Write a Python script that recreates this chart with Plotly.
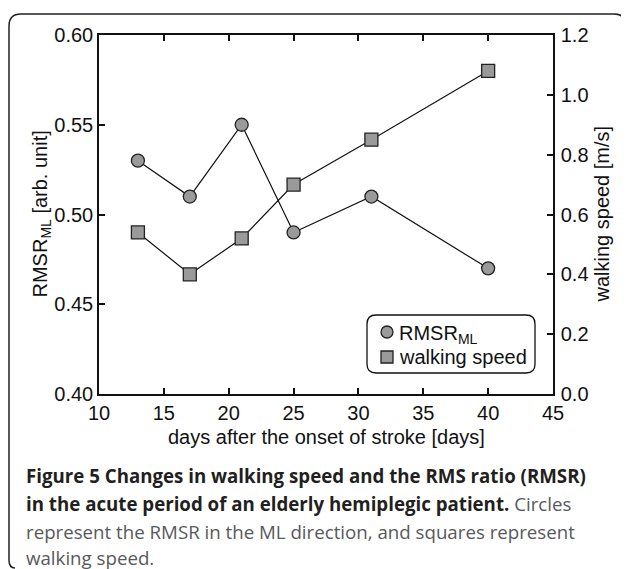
import plotly.graph_objects as go

days = [13, 17, 21, 25, 31, 40]
rmsr_ml = [0.53, 0.51, 0.55, 0.49, 0.51, 0.47]
walk_speed = [0.54, 0.40, 0.52, 0.70, 0.85, 1.08]

x_ticks = [10, 15, 20, 25, 30, 35, 40, 45]
y1_ticks = [0.40, 0.45, 0.50, 0.55, 0.60]
y2_ticks = [0.0, 0.2, 0.4, 0.6, 0.8, 1.0, 1.2]

FONT = "Liberation Sans, Arial, sans-serif"
CAP_FONT = "Open Sans, sans-serif"
FS = 20
# page has an 8px body margin, so the figure is 8px smaller than the window
W, H = 621, 561
L, R, T, B = 91, 545, 27, 386

fig = go.Figure()
fig.add_trace(go.Scatter(x=days, y=rmsr_ml, mode="lines", line=dict(color="#111", width=1.2),
                         showlegend=False, hoverinfo="skip"))
fig.add_trace(go.Scatter(x=days, y=walk_speed, mode="lines", line=dict(color="#111", width=1.2),
                         showlegend=False, hoverinfo="skip", yaxis="y2"))
fig.add_trace(go.Scatter(x=days, y=rmsr_ml, mode="markers", name="RMSR_ML", showlegend=False,
                         marker=dict(symbol="circle", size=13, color="#9a9a9a",
                                     line=dict(color="#222", width=1.3))))
fig.add_trace(go.Scatter(x=days, y=walk_speed, mode="markers", name="walking speed", yaxis="y2",
                         showlegend=False,
                         marker=dict(symbol="square", size=13, color="#9a9a9a",
                                     line=dict(color="#222", width=1.3))))

axis_common = dict(showgrid=False, zeroline=False, showline=True, linecolor="#111", linewidth=1.5,
                   ticks="inside", ticklen=6, tickwidth=1.5, tickcolor="#111",
                   tickfont=dict(family=FONT, size=FS, color="#111"))

fig.update_layout(
    width=W, height=H,
    margin=dict(l=L, r=W - R, t=T, b=H - B),
    paper_bgcolor="white", plot_bgcolor="white",
    font=dict(family=FONT, size=FS, color="#111"),
    xaxis=dict(range=[10, 45], tickvals=x_ticks, ticktext=[str(v) for v in x_ticks],
               mirror="ticks", **axis_common),
    yaxis=dict(range=[0.40, 0.60], tickvals=y1_ticks, ticktext=[f"{v:.2f}" for v in y1_ticks],
               ticklabelstandoff=0, **axis_common),
    yaxis2=dict(range=[0.0, 1.2], tickvals=y2_ticks, ticktext=[f"{v:.1f}" for v in y2_ticks],
                overlaying="y", side="right", ticklabelstandoff=2, **axis_common),
    showlegend=False,
)


def px(x, y):
    return (x - L) / (R - L), (B - y) / (B - T)


def path_from(points_cmds):
    out = []
    for cmd, pts in points_cmds:
        coords = " ".join(f"{a:.5f},{b:.5f}" for a, b in (px(*p) for p in pts))
        out.append(f"{cmd} {coords}")
    return " ".join(out)


# rounded legend box
bx0, by0, bx1, by1, r = 359, 307, 527, 365, 9
legend_path = path_from([
    ("M", [(bx0 + r, by0)]), ("L", [(bx1 - r, by0)]), ("Q", [(bx1, by0), (bx1, by0 + r)]),
    ("L", [(bx1, by1 - r)]), ("Q", [(bx1, by1), (bx1 - r, by1)]), ("L", [(bx0 + r, by1)]),
    ("Q", [(bx0, by1), (bx0, by1 - r)]), ("L", [(bx0, by0 + r)]), ("Q", [(bx0, by0), (bx0 + r, by0)]),
]) + " Z"
fig.add_shape(type="path", path=legend_path, xref="paper", yref="paper",
              line=dict(color="#111", width=1.3), fillcolor="white", layer="below")

# legend symbols
cx0, cy0 = px(373, 318)
cx1, cy1 = px(385, 330)
fig.add_shape(type="circle", x0=cx0, y0=cy0, x1=cx1, y1=cy1, xref="paper", yref="paper",
              line=dict(color="#222", width=1.3), fillcolor="#9a9a9a")
sx0, sy0 = px(373, 343)
sx1, sy1 = px(385, 355)
fig.add_shape(type="rect", x0=sx0, y0=sy0, x1=sx1, y1=sy1, xref="paper", yref="paper",
              line=dict(color="#222", width=1.3), fillcolor="#9a9a9a")

tx, ty1 = px(389, 326)
_, ty2 = px(389, 349)
fig.add_annotation(x=tx, y=ty1, xref="paper", yref="paper", showarrow=False,
                   text="RMSR<sub>ML</sub>",
                   font=dict(family=FONT, size=FS, color="#111"), xanchor="left", yanchor="middle")
fig.add_annotation(x=tx, y=ty2, xref="paper", yref="paper", showarrow=False,
                   text="walking speed",
                   font=dict(family=FONT, size=FS, color="#111"), xanchor="left", yanchor="middle")

# outer frame (open at bottom)
fx0, fy0, fx1, fr = 1, 6, 618, 12
frame = path_from([
    ("M", [(7, 560)]), ("Q", [(fx0, 560), (fx0, 552)]), ("L", [(fx0, fy0 + fr)]),
    ("Q", [(fx0, fy0), (fx0 + fr, fy0)]), ("L", [(fx1 - fr, fy0)]),
    ("Q", [(fx1, fy0), (fx1, fy0 + fr)]), ("L", [(fx1, 561)]),
])
fig.add_shape(type="path", path=frame, xref="paper", yref="paper",
              line=dict(color="#222", width=1.5))

# axis titles
cx, _ = px((L + R) / 2, 0)
_, tyx = px(0, 429)
fig.add_annotation(x=cx, y=tyx, xref="paper", yref="paper", showarrow=False,
                   text="days after the onset of stroke [days]",
                   font=dict(family=FONT, size=FS, color="#111"), xanchor="center", yanchor="middle")
lx, _ = px(33, 0)
fig.add_annotation(x=lx, y=0.5, xref="paper", yref="paper", showarrow=False, textangle=-90,
                   text="RMSR<sub>ML</sub> [arb. unit]",
                   font=dict(family=FONT, size=FS, color="#111"), xanchor="center", yanchor="middle")
rxp, _ = px(593, 0)
fig.add_annotation(x=rxp, y=0.5, xref="paper", yref="paper", showarrow=False, textangle=-90,
                   text="walking speed [m/s]",
                   font=dict(family=FONT, size=FS, color="#111"), xanchor="center", yanchor="middle")

# caption
caption_lines = [
    "<b>Figure 5 Changes in walking speed and the RMS ratio (RMSR)</b>",
    "<b>in the acute period of an elderly hemiplegic patient.</b> <span style='color:#58595b'>Circles</span>",
    "<span style='color:#58595b'>represent the RMSR in the ML direction, and squares represent</span>",
    "<span style='color:#58595b'>walking speed.</span>",
]
cap_y = [467, 495, 523, 549]
capx, _ = px(16, 0)
for txt, yy in zip(caption_lines, cap_y):
    _, py = px(0, yy)
    fig.add_annotation(x=capx, y=py, xref="paper", yref="paper", showarrow=False, text=txt,
                       font=dict(family=CAP_FONT, size=18.7, color="#231f20"),
                       xanchor="left", yanchor="middle", align="left")

fig.write_html("out.html")
